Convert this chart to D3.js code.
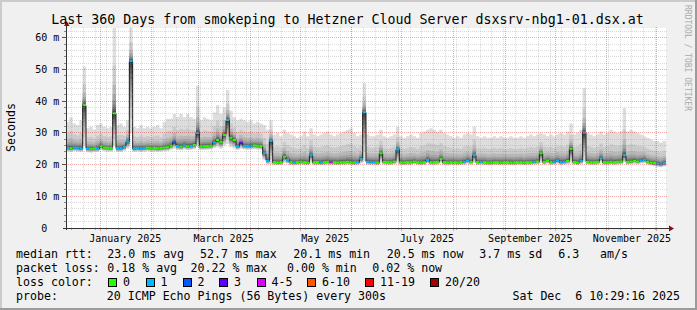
<!DOCTYPE html>
<html><head><meta charset="utf-8">
<script src="https://cdn.jsdelivr.net/npm/d3@7"></script>
<style>
html,body{margin:0;padding:0;background:#f0f0f0;}
svg{display:block;}
text{font-family:"DejaVu Sans Mono",monospace;white-space:pre;}
</style></head><body>
<svg id="c" width="697" height="310"></svg>
<script>
// ---------------- data ----------------
const title = "Last 360 Days from smokeping to Hetzner Cloud Server dsxsrv-nbg1-01.dsx.at";
const startTime = new Date(2024, 11, 11, 10, 29, 16);
const endTime = new Date(2025, 11, 6, 10, 29, 16);
const bucketDays = 2;

// median rtt per 2-day bucket (ms)
const rttMedian = [
25.3,25.2,25.4,25.3,25.2,38.8,25.1,25.0,25.1,25.2,
25.9,25.4,25.3,25.3,36.2,25.2,25.2,25.6,27.3,52.7,
25.2,25.3,25.2,25.3,25.4,25.3,25.3,25.2,25.3,25.4,
25.5,26.0,27.0,25.9,25.7,26.1,25.8,25.9,26.2,30.0,
25.8,25.8,25.9,26.0,27.0,27.8,27.2,29.4,34.1,28.5,
27.8,25.8,26.8,26.0,25.9,26.0,26.1,26.0,25.9,23.6,
21.2,27.5,20.8,20.7,20.8,22.5,21.5,20.8,20.7,20.8,
20.9,20.8,20.7,23.0,20.8,20.8,20.7,20.8,20.9,20.8,
20.8,20.7,20.8,20.8,20.9,20.8,20.7,20.8,21.8,36.6,
20.9,20.8,20.8,20.7,23.6,20.9,20.8,20.8,21.0,24.8,
20.8,20.7,20.8,20.8,21.0,20.8,20.7,20.8,21.5,20.8,
20.8,20.9,21.8,20.8,20.7,20.8,20.8,20.7,20.8,20.9,
21.3,20.9,23.0,20.8,20.9,20.8,20.7,20.7,20.8,20.8,
20.7,20.8,20.8,20.7,20.7,20.8,20.8,20.7,20.8,20.8,
20.9,21.0,23.6,20.9,21.3,20.8,20.9,21.3,20.8,20.9,
21.2,25.0,20.9,20.7,21.2,30.1,20.9,20.8,20.8,20.9,
22.0,20.8,20.8,20.9,20.8,20.9,21.0,23.0,20.9,21.0,
21.2,21.0,21.3,21.5,20.9,20.6,20.5,20.3,20.1,20.5];

// lowest ping per bucket (bottom of smoke, ms)
const rttMin = [
24.1,24.0,24.2,24.1,24.0,26.0,23.9,23.8,23.9,24.0,
24.6,24.2,24.1,24.1,26.0,24.0,24.0,24.4,25.0,30.0,
24.0,24.1,24.0,24.1,24.2,24.1,24.1,24.0,24.1,24.2,
24.3,24.7,25.0,24.6,24.5,24.8,24.6,24.6,24.9,25.5,
24.6,24.6,24.7,24.8,25.2,25.5,25.0,26.0,26.5,25.5,
25.0,24.6,25.0,24.8,24.7,24.8,24.9,24.8,24.7,21.5,
20.2,20.3,19.9,19.8,19.9,20.5,20.3,19.9,19.8,19.9,
20.0,19.9,19.8,20.6,19.9,19.9,19.8,19.9,20.0,19.9,
19.9,19.8,19.9,19.9,20.0,19.9,19.8,19.9,20.4,21.0,
20.0,19.9,19.9,19.8,20.6,20.0,19.9,19.9,20.1,20.4,
19.9,19.8,19.9,19.9,20.1,19.9,19.8,19.9,20.4,19.9,
19.9,20.0,20.6,19.9,19.8,19.9,19.9,19.8,19.9,20.0,
20.3,20.0,20.5,19.9,20.0,19.9,19.8,19.8,19.9,19.9,
19.8,19.9,19.9,19.8,19.8,19.9,19.9,19.8,19.9,19.9,
20.0,20.1,20.5,20.0,20.3,19.9,20.0,20.3,19.9,20.0,
20.2,20.4,20.0,19.8,20.2,20.8,20.0,19.9,19.9,20.0,
20.8,19.9,19.9,20.0,19.9,20.0,20.1,20.6,20.0,20.1,
20.3,20.1,20.4,20.5,20.0,19.7,19.5,19.3,19.2,19.4];

// highest ping per bucket (top of smoke, ms)
const rttMax = [
33.5,35.0,33.0,32.5,34.0,51.0,31.5,32.0,31.0,32.5,
33.0,32.0,31.5,32.0,63.5,32.5,33.0,32.0,34.0,63.5,
32.0,31.5,32.5,31.5,32.0,31.5,32.0,32.5,31.5,33.5,
34.5,34.5,36.0,35.0,36.0,35.0,36.0,35.0,34.5,45.0,
34.0,35.0,34.5,34.0,36.5,38.8,36.0,38.0,43.6,37.0,
35.0,34.0,34.5,34.0,33.5,34.0,33.0,33.5,33.0,32.5,
31.0,34.0,29.5,30.0,29.0,31.0,30.0,29.5,29.0,28.5,
29.0,30.5,29.0,31.5,29.5,29.0,29.5,30.0,30.5,29.5,
29.0,29.5,30.0,30.5,31.0,31.5,30.0,29.0,29.5,45.7,
29.5,29.0,29.0,29.5,31.0,29.0,28.5,29.0,29.5,32.0,
29.0,28.5,29.0,29.5,29.0,28.5,30.0,30.5,31.0,31.5,
31.0,30.5,31.0,30.0,29.5,29.0,28.5,29.0,28.5,29.5,
30.0,29.5,32.0,29.0,28.5,29.0,28.5,28.5,29.0,28.5,
29.0,28.5,28.5,29.0,28.5,28.5,29.0,28.5,29.0,29.5,
29.0,29.5,30.0,29.5,29.0,29.5,29.0,29.5,30.0,29.5,
30.5,33.0,29.5,30.0,31.0,44.1,30.0,29.5,29.0,29.5,
30.5,29.5,30.0,31.0,30.5,30.0,30.5,37.8,30.5,31.0,
30.5,30.0,29.5,29.0,28.5,28.0,27.5,27.5,27.0,27.5];

// loss colour class per bucket (index into lossLabels)
const lossBucket = [
1,0,1,1,1,0,1,0,0,1,
0,0,0,0,0,1,1,1,1,1,
1,1,1,1,0,0,0,0,0,0,
0,0,2,1,0,1,0,1,0,1,
0,0,0,0,1,0,0,0,1,0,
0,1,3,1,1,1,0,0,0,1,
1,1,0,0,0,0,1,0,1,0,
0,0,0,1,0,0,1,0,0,4,
0,0,0,0,0,0,0,1,1,1,
1,1,1,0,0,0,0,0,0,1,
0,0,0,0,0,0,0,0,1,0,
0,0,0,0,0,0,0,0,0,1,
1,0,1,0,1,0,0,0,0,0,
0,0,0,0,0,0,0,0,0,0,
1,0,0,0,0,0,1,1,1,1,
0,0,0,0,1,1,0,0,0,0,
1,0,0,0,0,0,0,1,0,0,
0,0,1,1,0,0,0,1,1,1];

const lossLabels = ["0","1","2","3","4-5","6-10","11-19","20/20"];
const lossColors = ["#26ff00","#00b8ff","#0059ff","#5e00ff","#dd00ff","#ff5500","#ff0000","#a10000"];
const yTickValues = [0,10,20,30,40,50,60];
const xLabelMonths = [new Date(2025,0,1),new Date(2025,2,1),new Date(2025,4,1),new Date(2025,6,1),new Date(2025,8,1),new Date(2025,10,1)];

const medianStats = ["23.0 ms avg","52.7 ms max","20.1 ms min","20.5 ms now","3.7 ms sd","6.3","am/s"];
const lossStats = ["0.18 % avg","20.22 % max","0.00 % min","0.02 % now"];
const probeText = "20 ICMP Echo Pings (56 Bytes) every 300s";
const stampText = "Sat Dec  6 10:29:16 2025";

// ---------------- drawing ----------------
const W = 697, H = 310;
const L = 66, R = 666, T = 28, B = 228;
const svg = d3.select("#c");

svg.append("rect").attr("width", W).attr("height", H).attr("fill", "#f0f0f0");
svg.append("rect").attr("x",0).attr("y",0).attr("width",W).attr("height",2).attr("fill","#cbcbcb");
svg.append("rect").attr("x",0).attr("y",0).attr("width",2).attr("height",H).attr("fill","#cbcbcb");
svg.append("rect").attr("x",W-2).attr("y",0).attr("width",2).attr("height",H).attr("fill","#9b9b9b");
svg.append("rect").attr("x",0).attr("y",H-2).attr("width",W).attr("height",2).attr("fill","#9b9b9b");

svg.append("rect").attr("x", L).attr("y", T).attr("width", R-L).attr("height", B-T).attr("fill", "#fff");

const x = d3.scaleTime().domain([startTime, endTime]).range([L, R]);
const y = d3.scaleLinear().domain([0, 200/3.1667]).range([B, T]);

svg.append("defs").append("clipPath").attr("id","pc")
  .append("rect").attr("x",L).attr("y",T).attr("width",R-L).attr("height",B-T);
const plot = svg.append("g").attr("clip-path","url(#pc)");

const n = rttMedian.length;
const tAt = i => new Date(+startTime + i*bucketDays*864e5);
const idx = d3.range(n+1);
const cl = i => Math.min(i, n-1);

// smoke: 10 layers of sorted ping pairs, light outside to dark inside
const fracUp = [0.01,0.025,0.045,0.07,0.10,0.15,0.22,0.33,0.55,1.0];
const fracDn = [0.04,0.10,0.17,0.25,0.33,0.42,0.52,0.65,0.80,1.0];
for (let k = 1; k <= 10; k++) {
  const g = Math.round(190/10*(10-k)+50);
  const area = d3.area().curve(d3.curveStepAfter)
    .x(i => x(tAt(i)))
    .y0(i => { const j = cl(i); return y(rttMedian[j] - (rttMedian[j]-rttMin[j])*fracDn[10-k]); })
    .y1(i => { const j = cl(i); return y(rttMedian[j] + (rttMax[j]-rttMedian[j])*fracUp[10-k]); });
  plot.append("path").attr("d", area(idx)).attr("fill", d3.rgb(g,g,g));
}

// grid (on top of smoke)
const grid = svg.append("g").attr("shape-rendering","crispEdges");
const minorCol = "rgba(140,140,140,0.32)", majorCol = "rgba(222,0,0,0.33)";
d3.range(2, 63, 2).forEach(v => {
  const yy = Math.floor(y(v)) + 0.5;
  const major = v % 10 === 0;
  grid.append("line").attr("x1", L).attr("x2", R+2).attr("y1", yy).attr("y2", yy)
    .attr("stroke", major ? majorCol : minorCol).attr("stroke-dasharray","1,1");
  grid.append("line").attr("x1", major ? 62 : 64).attr("x2", L).attr("y1", yy).attr("y2", yy)
    .attr("stroke", major ? "#555" : "#888");
});
const months = d3.timeMonth.range(startTime, endTime);
const weeks = d3.timeSunday.range(startTime, endTime);
weeks.forEach(d => {
  const xx = Math.floor(x(d)) + 0.5;
  grid.append("line").attr("x1", xx).attr("x2", xx).attr("y1", T-1).attr("y2", B)
    .attr("stroke", minorCol).attr("stroke-dasharray","1,1");
  grid.append("line").attr("x1", xx).attr("x2", xx).attr("y1", B).attr("y2", B+2).attr("stroke", "#aaa");
});
months.forEach(d => {
  const xx = Math.floor(x(d)) + 0.5;
  grid.append("line").attr("x1", xx).attr("x2", xx).attr("y1", T-1).attr("y2", B)
    .attr("stroke", majorCol).attr("stroke-dasharray","1,1");
  grid.append("line").attr("x1", xx).attr("x2", xx).attr("y1", B).attr("y2", B+3).attr("stroke", "#e99");
});

// median line
const medLine = d3.line().curve(d3.curveStepAfter)
  .x(i => x(tAt(i))).y(i => Math.floor(y(rttMedian[cl(i)])) + 0.5);
plot.append("path").attr("d", medLine(idx)).attr("fill","none").attr("stroke","#202020").attr("stroke-width",1);

// loss coloured median marks
plot.selectAll("rect.loss").data(d3.range(n)).join("rect").attr("class","loss")
  .attr("x", i => x(tAt(i))).attr("width", i => x(tAt(i+1)) - x(tAt(i)))
  .attr("y", i => y(rttMedian[i]) - 1).attr("height", 2)
  .attr("fill", i => lossColors[lossBucket[i]]);

// axes
const ax = svg.append("g").attr("shape-rendering","crispEdges");
ax.append("line").attr("x1", L+0.5).attr("x2", L+0.5).attr("y1", B+2).attr("y2", T-5).attr("stroke","#333");
ax.append("line").attr("x1", L-3).attr("x2", R+4).attr("y1", B+0.5).attr("y2", B+0.5).attr("stroke","#333");
svg.append("path").attr("d", `M${L-2},${T-2} L${L+3.5},${T-2} L${L+0.75},${T-7} Z`).attr("fill","#8b0e0e");
svg.append("path").attr("d", `M${R+3},${B-2.5} L${R+3},${B+3.5} L${R+8},${B+0.5} Z`).attr("fill","#8b0e0e");

// y labels
const yl = svg.append("g").attr("font-size","10px").attr("fill","#000");
yTickValues.forEach(v => {
  const yy = Math.floor(y(v)) + 0.5 + 3.6;
  yl.append("text").attr("x", 47.3).attr("y", yy).attr("text-anchor","end").text(d3.format("d")(v));
  if (v !== 0) yl.append("text").attr("x", 53.3).attr("y", yy).text("m");
});

// x labels (centred half a month after month start)
const xl = svg.append("g").attr("font-size","10px").attr("fill","#000");
xLabelMonths.forEach(d => {
  const c = x(new Date(+d + 15*864e5));
  xl.append("text").attr("x", c).attr("y", 241.5).attr("text-anchor","middle").text(d3.timeFormat("%B %Y")(d));
});

// title & axis title
svg.append("text").attr("x", 347.5).attr("y", 24).attr("text-anchor","middle")
  .attr("font-size","13.3px").text(title);
svg.append("text").attr("transform","translate(15,127.5) rotate(-90)").attr("text-anchor","middle")
  .attr("font-size","11.6px").text("Seconds");
svg.append("text").attr("transform","translate(684.5,5) rotate(90)").attr("font-size","8px")
  .attr("fill","#aaaaaa").text("RRDTOOL / TOBI OETIKER");

// legend
const lg = svg.append("g").attr("font-size","11.6px").attr("fill","#000");
lg.append("text").attr("x",16).attr("y",258).text("median rtt:");
const medX = [107.3,200,293.3,386.7,479.3,558.3,600];
medianStats.forEach((s,i) => lg.append("text").attr("x",medX[i]).attr("y",258).text(s));
lg.append("text").attr("x",16).attr("y",272).text("packet loss:");
const lossX = [107.3,190.5,287,372.3];
lossStats.forEach((s,i) => lg.append("text").attr("x",lossX[i]).attr("y",272).text(s));
lg.append("text").attr("x",16).attr("y",286).text("loss color:");
const boxX = [108,145.5,182.5,219,256.5,307,365,430];
lossLabels.forEach((s,i) => {
  lg.append("rect").attr("x",boxX[i]+0.5).attr("y",278.5).attr("width",8).attr("height",8)
    .attr("fill",lossColors[i]).attr("stroke","#000").attr("stroke-width",1).attr("shape-rendering","crispEdges");
  lg.append("text").attr("x",boxX[i]+15).attr("y",286).text(s);
});
lg.append("text").attr("x",16).attr("y",300).text("probe:");
lg.append("text").attr("x",106.8).attr("y",300).text(probeText);
lg.append("text").attr("x",680).attr("y",300).attr("text-anchor","end").attr("xml:space","preserve").text(stampText);
</script>
</body></html>
